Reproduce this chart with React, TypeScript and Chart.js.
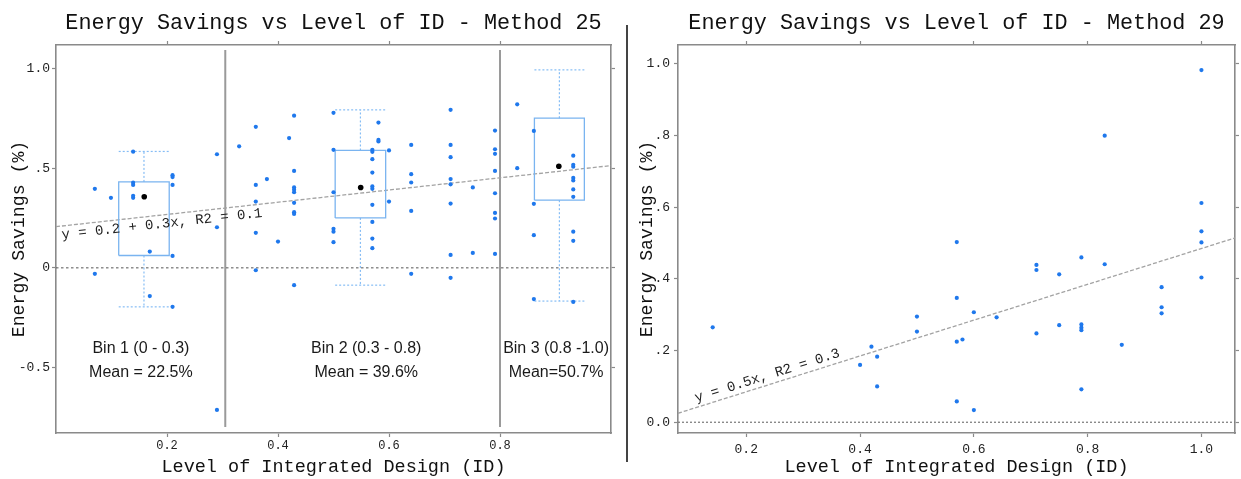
import React, { useEffect, useRef } from "react";
import { Chart, registerables } from "chart.js";

Chart.register(...registerables);

// ---------------- Method 25 (left panel) ----------------
const m25Levels = [0.07, 0.099, 0.139, 0.169, 0.21, 0.29, 0.33, 0.36, 0.38, 0.4, 0.42, 0.429, 0.5, 0.57, 0.581, 0.6, 0.64, 0.711, 0.751, 0.791, 0.831, 0.861, 0.932];
const m25Savings = [
  [0.397, -0.03],
  [0.352],
  [0.584, 0.428, 0.417, 0.362, 0.352],
  [0.082, -0.142],
  [0.466, 0.456, 0.417, 0.06, -0.196],
  [0.571, 0.204, -0.714],
  [0.611],
  [0.709, 0.417, 0.333, 0.176, -0.012],
  [0.446],
  [0.132],
  [0.652],
  [0.765, 0.487, 0.404, 0.392, 0.38, 0.327, 0.28, 0.271, -0.087],
  [0.779, 0.593, 0.38, 0.196, 0.182, 0.129],
  [0.593, 0.583, 0.546, 0.479, 0.409, 0.397, 0.317, 0.231, 0.147, 0.099],
  [0.73, 0.643, 0.635],
  [0.59, 0.333],
  [0.618, 0.471, 0.429, 0.286, -0.03],
  [0.794, 0.618, 0.556, 0.446, 0.42, 0.323, 0.065, -0.05],
  [0.404, 0.075],
  [0.69, 0.596, 0.573, 0.487, 0.375, 0.276, 0.248, 0.07],
  [0.822, 0.501],
  [0.688, 0.322, 0.164, -0.157],
  [0.564, 0.518, 0.508, 0.452, 0.439, 0.394, 0.357, 0.182, 0.136, -0.171],
];
const m25MeanLevel = [0.159, 0.549, 0.906];
const m25MeanSaving = [0.357, 0.404, 0.511];
const m25BoxLeft = [0.113, 0.503, 0.862];
const m25BoxRight = [0.204, 0.594, 0.952];
const m25Q1 = [0.062, 0.251, 0.34];
const m25Q3 = [0.432, 0.59, 0.752];
const m25WhiskerLow = [-0.196, -0.087, -0.167];
const m25WhiskerHigh = [0.585, 0.794, 0.995];
const m25BinEdges = [0.305, 0.8];
const m25BinNames = ["Bin 1 (0 - 0.3)", "Bin 2 (0.3 - 0.8)", "Bin 3 (0.8 -1.0)"];
const m25BinMeans = ["Mean = 22.5%", "Mean = 39.6%", "Mean=50.7%"];
const m25Fit = { intercept: 0.207, slope: 0.307 };
const m25FitLabel = "y = 0.2 + 0.3x, R2 = 0.1";
const m25XTicks = [0.2, 0.4, 0.6, 0.8];
const m25XTickLabels = ["0.2", "0.4", "0.6", "0.8"];
const m25YTicks = [-0.5, 0, 0.5, 1.0];
const m25YTickLabels = ["-0.5", "0", ".5", "1.0"];

// ---------------- Method 29 (right panel) ----------------
const m29Levels = [0.141, 0.4, 0.42, 0.43, 0.5, 0.57, 0.58, 0.6, 0.64, 0.71, 0.75, 0.789, 0.83, 0.86, 0.93, 1.0];
const m29Savings = [
  [0.265],
  [0.16],
  [0.211],
  [0.183, 0.1],
  [0.295, 0.253],
  [0.503, 0.347, 0.225, 0.058],
  [0.231],
  [0.307, 0.034],
  [0.293],
  [0.439, 0.425, 0.248],
  [0.413, 0.271],
  [0.46, 0.273, 0.264, 0.257, 0.092],
  [0.8, 0.441],
  [0.216],
  [0.377, 0.321, 0.304],
  [0.983, 0.612, 0.533, 0.502, 0.404],
];
const m29Fit = { intercept: -0.015, slope: 0.5 };
const m29FitLabel = "y = 0.5x, R2 = 0.3";
const m29XTicks = [0.2, 0.4, 0.6, 0.8, 1.0];
const m29XTickLabels = ["0.2", "0.4", "0.6", "0.8", "1.0"];
const m29YTicks = [0, 0.2, 0.4, 0.6, 0.8, 1.0];
const m29YTickLabels = ["0.0", ".2", ".4", ".6", ".8", "1.0"];

const TITLE_25 = "Energy Savings vs Level of ID - Method 25";
const TITLE_29 = "Energy Savings vs Level of ID - Method 29";
const X_TITLE = "Level of Integrated Design (ID)";
const Y_TITLE = "Energy Savings (%)";

// ---------------- styles ----------------
const MONO = "'Liberation Mono', 'DejaVu Sans Mono', monospace";
const SANS = "'Liberation Sans', Arial, sans-serif";
const FRAME = "#8a8a8a";
const POINT_BLUE = "#1f78ec";
const BOX_BLUE = "#7ab4f0";
const WHISKER_BLUE = "#86bdf5";
const FIT_GRAY = "#a3a3a3";
const TEXT_DARK = "#111";

const toPoints = (levels: number[], savings: number[][]) =>
  levels.flatMap((x, i) => savings[i].map((y) => ({ x, y })));

const seg = (data: any[], color: string, width: number, dash: number[] = []) => ({
  data,
  showLine: true,
  borderColor: color,
  backgroundColor: color,
  borderWidth: width,
  borderDash: dash,
  pointRadius: 0,
  pointHoverRadius: 0,
  fill: false,
  tension: 0,
});

const pointsSet = (data: any[], color: string, r: number) => ({
  data,
  showLine: false,
  pointRadius: r,
  pointHoverRadius: r,
  pointBackgroundColor: color,
  pointBorderWidth: 0,
  borderColor: color,
  backgroundColor: color,
});

const fitLine = (fit: { intercept: number; slope: number }, a: number, b: number) => [
  { x: a, y: fit.intercept + fit.slope * a },
  { x: b, y: fit.intercept + fit.slope * b },
];

const annotate = {
  id: "annotate",
  afterDatasetsDraw(chart: any, _args: any, opts: any) {
    const { ctx } = chart;
    const xs = chart.scales.x;
    const ys = chart.scales.y;
    ctx.save();
    (opts.labels || []).forEach((t: any) => {
      ctx.font = t.font;
      ctx.fillStyle = t.color;
      ctx.textAlign = "center";
      ctx.textBaseline = "middle";
      ctx.fillText(t.text, xs.getPixelForValue(t.x), ys.getPixelForValue(t.y));
    });
    const eq = opts.equation;
    if (eq) {
      const f = (v: number) => eq.fit.intercept + eq.fit.slope * v;
      const ax = xs.getPixelForValue(eq.x);
      const ay = ys.getPixelForValue(f(eq.x));
      const bx = xs.getPixelForValue(eq.x + 0.1);
      const by = ys.getPixelForValue(f(eq.x + 0.1));
      const ang = Math.atan2(by - ay, bx - ax);
      ctx.translate(ax, ay);
      ctx.rotate(ang);
      ctx.font = eq.font;
      ctx.fillStyle = eq.color;
      ctx.textAlign = "left";
      ctx.textBaseline = "middle";
      ctx.fillText(eq.text, 0, eq.offset);
    }
    ctx.restore();
  },
};

function buildOptions(p: any) {
  const setTicks = (vals: number[]) => (s: any) => {
    s.ticks = vals.map((v) => ({ value: v }));
  };
  const grid = { display: true, drawOnChartArea: false, drawTicks: true, tickLength: 4, tickWidth: 1.2, tickColor: FRAME, color: FRAME };
  const border = { display: true, color: FRAME, width: 1.6 };
  return {
    responsive: false,
    animation: false,
    events: [],
    layout: { padding: { left: 0, right: p.padRight, top: 0, bottom: 0 } },
    plugins: {
      legend: { display: false },
      tooltip: { enabled: false },
      title: {
        display: true,
        text: p.title,
        fullSize: false,
        color: TEXT_DARK,
        font: { family: MONO, size: 21.8, weight: "normal", lineHeight: 1.2 },
        padding: { top: 10, bottom: 4.84 },
      },
      annotate: { labels: p.labels, equation: p.equation },
    },
    scales: {
      x: {
        type: "linear",
        position: "bottom",
        min: p.xMin,
        max: p.xMax,
        afterBuildTicks: setTicks(p.xTicks),
        afterFit: (s: any) => {
          s.height = 46;
        },
        grid,
        border,
        ticks: {
          callback: (_v: any, i: number) => p.xTickLabels[i],
          font: { family: MONO, size: p.xTickSize },
          color: "#222",
          padding: p.xTickPad,
          maxRotation: 0,
          autoSkip: false,
        },
        title: {
          display: true,
          text: X_TITLE,
          color: TEXT_DARK,
          font: { family: MONO, size: 18.5, lineHeight: 1.2 },
          padding: { top: 0, bottom: 1 },
        },
      },
      x2: {
        type: "linear",
        position: "top",
        min: p.xMin,
        max: p.xMax,
        afterBuildTicks: setTicks(p.xTicks),
        afterFit: (s: any) => {
          s.height = 4;
        },
        grid,
        border,
        ticks: { display: false },
      },
      y: {
        type: "linear",
        position: "left",
        min: p.yMin,
        max: p.yMax,
        afterBuildTicks: setTicks(p.yTicks),
        afterFit: (s: any) => {
          s.width = p.yAxisWidth;
        },
        grid,
        border,
        ticks: {
          callback: (_v: any, i: number) => p.yTickLabels[i],
          font: { family: MONO, size: 13 },
          color: "#222",
          padding: p.yTickPad,
        },
        title: {
          display: true,
          text: Y_TITLE,
          color: TEXT_DARK,
          font: { family: MONO, size: 18.2, lineHeight: 1.2 },
          padding: { top: p.yTitlePad, bottom: 0 },
        },
      },
      y2: {
        type: "linear",
        position: "right",
        min: p.yMin,
        max: p.yMax,
        afterBuildTicks: setTicks(p.yTicks),
        afterFit: (s: any) => {
          s.width = 4;
        },
        grid,
        border,
        ticks: { display: false },
      },
    },
  };
}

function leftConfig() {
  const xMin = 0, xMax = 1.0, yMin = -0.83, yMax = 1.12;
  const datasets: any[] = [];
  datasets.push(pointsSet(toPoints(m25Levels, m25Savings), POINT_BLUE, 2.1));
  datasets.push(pointsSet(m25MeanLevel.map((x, i) => ({ x, y: m25MeanSaving[i] })), "#000", 2.8));
  m25BoxLeft.forEach((l, i) => {
    const r = m25BoxRight[i];
    const c = (l + r) / 2;
    datasets.push(
      seg(
        [
          { x: l, y: m25Q1[i] },
          { x: l, y: m25Q3[i] },
          { x: r, y: m25Q3[i] },
          { x: r, y: m25Q1[i] },
          { x: l, y: m25Q1[i] },
        ],
        BOX_BLUE,
        1.3
      )
    );
    datasets.push(seg([{ x: c, y: m25Q3[i] }, { x: c, y: m25WhiskerHigh[i] }], WHISKER_BLUE, 1.2, [2, 2]));
    datasets.push(seg([{ x: c, y: m25Q1[i] }, { x: c, y: m25WhiskerLow[i] }], WHISKER_BLUE, 1.2, [2, 2]));
    datasets.push(seg([{ x: l, y: m25WhiskerHigh[i] }, { x: r, y: m25WhiskerHigh[i] }], WHISKER_BLUE, 1.2, [2, 2]));
    datasets.push(seg([{ x: l, y: m25WhiskerLow[i] }, { x: r, y: m25WhiskerLow[i] }], WHISKER_BLUE, 1.2, [2, 2]));
  });
  datasets.push(seg(fitLine(m25Fit, xMin, xMax), FIT_GRAY, 1.3, [4, 2]));
  datasets.push(seg([{ x: xMin, y: 0 }, { x: xMax, y: 0 }], "#555", 1, [2.5, 2.5]));
  m25BinEdges.forEach((e) => {
    datasets.push(seg([{ x: e, y: -0.8 }, { x: e, y: 1.095 }], "#9a9a9a", 2));
  });

  const labelX = [0.153, 0.559, 0.901];
  const labels: any[] = [];
  labelX.forEach((x, i) => {
    labels.push({ text: m25BinNames[i], x, y: -0.407, font: `16px ${SANS}`, color: "#1a1a1a" });
    labels.push({ text: m25BinMeans[i], x, y: -0.528, font: `16px ${SANS}`, color: "#1a1a1a" });
  });

  return {
    type: "scatter",
    data: { datasets },
    options: buildOptions({
      title: TITLE_25,
      xMin, xMax, yMin, yMax,
      xTicks: m25XTicks, xTickLabels: m25XTickLabels,
      yTicks: m25YTicks, yTickLabels: m25YTickLabels,
      yAxisWidth: 56, padRight: 5, yTitlePad: 8.6, xTickPad: 2, yTickPad: 2, xTickSize: 12,
      labels,
      equation: { text: m25FitLabel, fit: m25Fit, x: 0.0085, offset: 9, font: `14px ${MONO}`, color: "#222" },
    }),
    plugins: [annotate],
  };
}

function rightConfig() {
  const xMin = 0.08, xMax = 1.059, yMin = -0.03, yMax = 1.053;
  const datasets: any[] = [];
  datasets.push(pointsSet(toPoints(m29Levels, m29Savings), POINT_BLUE, 2.1));
  datasets.push(seg(fitLine(m29Fit, xMin, xMax), FIT_GRAY, 1.3, [4, 2]));
  datasets.push(seg([{ x: xMin, y: 0 }, { x: xMax, y: 0 }], "#777", 1.2, [2, 2]));
  return {
    type: "scatter",
    data: { datasets },
    options: buildOptions({
      title: TITLE_29,
      xMin, xMax, yMin, yMax,
      xTicks: m29XTicks, xTickLabels: m29XTickLabels,
      yTicks: m29YTicks, yTickLabels: m29YTickLabels,
      yAxisWidth: 48, padRight: 2, yTitlePad: 6, xTickPad: 5, yTickPad: 4, xTickSize: 13,
      labels: [],
      equation: { text: m29FitLabel, fit: m29Fit, x: 0.115, offset: -9, font: `14px ${MONO}`, color: "#222" },
    }),
    plugins: [annotate],
  };
}

export default function App() {
  const leftRef = useRef<HTMLCanvasElement | null>(null);
  const rightRef = useRef<HTMLCanvasElement | null>(null);

  useEffect(() => {
    const charts: Chart[] = [];
    if (leftRef.current) charts.push(new Chart(leftRef.current, leftConfig() as any));
    if (rightRef.current) charts.push(new Chart(rightRef.current, rightConfig() as any));
    return () => charts.forEach((c) => c.destroy());
  }, []);

  return (
    <div style={{ position: "absolute", left: 0, top: 0, width: 1241, height: 479, background: "#fff", overflow: "hidden" }}>
      <canvas ref={leftRef} width={620} height={479} style={{ position: "absolute", left: 0, top: 0, width: 620, height: 479 }} />
      <div style={{ position: "absolute", left: 626, top: 25, width: 2, height: 437, background: "#444" }} />
      <canvas ref={rightRef} width={611} height={479} style={{ position: "absolute", left: 630, top: 0, width: 611, height: 479 }} />
    </div>
  );
}
